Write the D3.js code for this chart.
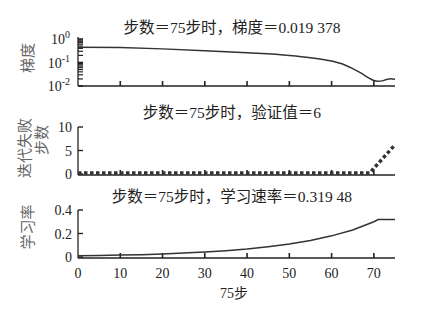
<!DOCTYPE html>
<html>
<head>
<meta charset="utf-8">
<script src="https://cdn.jsdelivr.net/npm/d3@7"></script>
<style>
  body { margin: 0; background: #fff; }
</style>
</head>
<body>
<svg id="display"></svg>
<script>
// values
let gradSteps = [0, 10, 20, 30, 40, 50, 55, 60, 63, 65, 67, 69, 70, 71, 72, 73, 74, 75]
let gradVals = [0.45, 0.43, 0.38, 0.32, 0.26, 0.2, 0.16, 0.115, 0.08, 0.055, 0.035, 0.021, 0.017, 0.0158, 0.0165, 0.019, 0.0205, 0.0194]

let failSteps = [0, 69, 70, 71, 72, 73, 74, 75]
let failVals = [0, 0, 1, 2, 3, 4, 5, 6]

let lrSteps = [0, 5, 10, 15, 20, 25, 30, 35, 40, 45, 50, 55, 60, 65, 70, 71, 75]
let lrVals = [0.01, 0.012, 0.016, 0.02, 0.026, 0.033, 0.042, 0.054, 0.068, 0.088, 0.11, 0.14, 0.18, 0.23, 0.30, 0.319, 0.319]

let xTicks = [0, 10, 20, 30, 40, 50, 60, 70]
let titles = ['步数＝75步时，梯度＝0.019 378', '步数＝75步时，验证值＝6', '步数＝75步时，学习速率＝0.319 48']

let width = 427
let height = 310
let font = '"Liberation Serif", "Times New Roman", "DejaVu Serif", "Noto Sans CJK SC", serif'
let svg = d3.select('#display').attr('width', width).attr('height', height)
  .style('font-family', font)

const xScale = d3.scaleLinear().domain([0, 75]).range([78, 395])

function drawXAxis(y0, labels) {
  let g = svg.append('g').attr('transform', 'translate(0,' + y0 + ')')
  g.append('line').attr('x1', 78).attr('x2', 395).attr('stroke', '#222').attr('stroke-width', 1.3)
  xTicks.forEach(t => {
    if (t === 0) return
    g.append('line').attr('x1', xScale(t)).attr('x2', xScale(t))
      .attr('y1', 0).attr('y2', -5).attr('stroke', '#222').attr('stroke-width', 1.6)
  })
  if (labels) {
    xTicks.forEach(t => {
      g.append('text').attr('x', xScale(t)).attr('y', 20)
        .attr('text-anchor', 'middle').attr('font-size', 14).attr('fill', '#222').text(t)
    })
  }
}

function drawYLine(yTop, yBot) {
  svg.append('line').attr('x1', 78).attr('x2', 78).attr('y1', yTop).attr('y2', yBot)
    .attr('stroke', '#222').attr('stroke-width', 1.3)
}

function title(y, txt) {
  svg.append('text').attr('x', 232).attr('y', y).attr('text-anchor', 'middle')
    .attr('font-size', 15.5).attr('fill', '#222').text(txt)
}

function ylabel(x, y, txt) {
  svg.append('text').attr('transform', 'translate(' + x + ',' + y + ') rotate(-90)')
    .attr('text-anchor', 'middle').attr('font-size', 15).attr('fill', '#666').text(txt)
}

// ---- panel 1: gradient (log)
const y1 = d3.scaleLog().domain([0.01, 1]).range([86, 39])
title(33, titles[0])
drawYLine(37, 86)
drawXAxis(86, false)
y1.ticks().forEach(t => {
  let major = Math.abs(Math.log10(t) - Math.round(Math.log10(t))) < 1e-9
  svg.append('line').attr('x1', 78).attr('x2', 83).attr('y1', y1(t)).attr('y2', y1(t))
    .attr('stroke', '#222').attr('stroke-width', major ? 1.6 : 1.2)
})
;[0, -1, -2].forEach(p => {
  let t = svg.append('text').attr('x', 70).attr('y', y1(Math.pow(10, p)) + 5)
    .attr('text-anchor', 'end').attr('font-size', 14).attr('fill', '#222')
  t.append('tspan').text('10')
  t.append('tspan').attr('dy', -6).attr('font-size', 10).text(p)
})
svg.append('path')
  .datum(gradSteps.map((s, i) => [s, gradVals[i]]))
  .attr('fill', 'none').attr('stroke', '#333').attr('stroke-width', 1.5)
  .attr('d', d3.line().x(d => xScale(d[0])).y(d => y1(d[1])).curve(d3.curveMonotoneX))
ylabel(33, 58, '梯度')

// ---- panel 2: validation fails
const y2 = d3.scaleLinear().domain([0, 10]).range([174, 127])
title(118, titles[1])
drawYLine(127, 175)
drawXAxis(175, false)
;[0, 5, 10].forEach(t => {
  svg.append('line').attr('x1', 78).attr('x2', 83).attr('y1', y2(t)).attr('y2', y2(t))
    .attr('stroke', '#222').attr('stroke-width', 1.4)
  svg.append('text').attr('x', 72).attr('y', y2(t) + 5).attr('text-anchor', 'end')
    .attr('font-size', 14).attr('fill', '#222').text(t)
})
svg.append('path')
  .datum(failSteps.map((s, i) => [s, failVals[i]]))
  .attr('fill', 'none').attr('stroke', '#333').attr('stroke-width', 3.5)
  .attr('stroke-dasharray', '3.5,2.5')
  .attr('d', d3.line().x(d => xScale(d[0])).y(d => y2(d[1]) - 1))
svg.append('text').attr('transform', 'translate(30,148) rotate(-90)')
  .attr('text-anchor', 'middle').attr('font-size', 15).attr('fill', '#666').text('迭代失败')
svg.append('text').attr('transform', 'translate(47,140) rotate(-90)')
  .attr('text-anchor', 'middle').attr('font-size', 15).attr('fill', '#666').text('步数')

// ---- panel 3: learning rate
const y3 = d3.scaleLinear().domain([0, 0.4]).range([257, 210])
title(202, titles[2])
drawYLine(210, 258)
drawXAxis(258, true)
;[0, 0.2, 0.4].forEach(t => {
  svg.append('line').attr('x1', 78).attr('x2', 83).attr('y1', y3(t)).attr('y2', y3(t))
    .attr('stroke', '#222').attr('stroke-width', 1.4)
  svg.append('text').attr('x', 72).attr('y', y3(t) + 5).attr('text-anchor', 'end')
    .attr('font-size', 14).attr('fill', '#222').text(t === 0 ? '0' : t.toFixed(1))
})
svg.append('path')
  .datum(lrSteps.map((s, i) => [s, lrVals[i]]))
  .attr('fill', 'none').attr('stroke', '#333').attr('stroke-width', 1.5)
  .attr('d', d3.line().x(d => xScale(d[0])).y(d => y3(d[1])))
ylabel(33, 227, '学习率')

svg.append('text').attr('x', 234).attr('y', 298).attr('text-anchor', 'middle')
  .attr('font-size', 14).attr('fill', '#222').text('75步')
</script>
</body>
</html>
